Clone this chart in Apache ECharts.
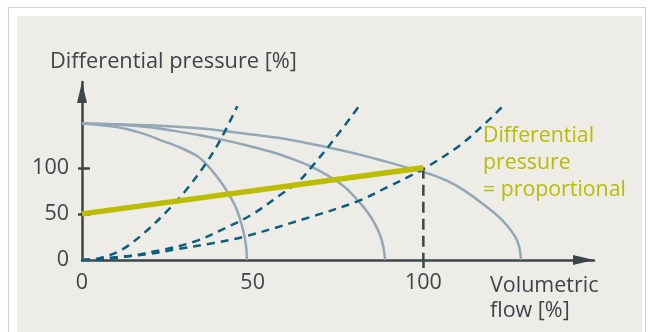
<!DOCTYPE html>
<html>
<head>
<meta charset="utf-8">
<script src="https://cdn.jsdelivr.net/npm/echarts@6/dist/echarts.min.js"></script>
<style>
html,body{margin:0;padding:0;background:#ffffff;}
#frame{position:absolute;left:8px;top:7px;width:638px;height:340px;border:1px solid #c9d2da;box-sizing:border-box;}
#panel{position:absolute;left:17px;top:16px;width:625px;height:316px;background:#edece7;}
#chart{position:absolute;left:0;top:0;width:651px;height:332px;}
</style>
</head>
<body>
<div id="frame"></div>
<div id="panel"></div>
<div id="chart"></div>
<script>
// Axis tick labels
const xTickLabels = [0, 50, 100];
const yTickLabels = [0, 50, 100];
const yTickMarks = [50, 100];
const xTickMarks = [100];

// Pump curves (volumetric flow %, differential pressure %)
const pumpSmall = [[0,148],[8.6,145],[13,142],[18.4,136.5],[23,130],[28.7,122],[33.6,113],[36,105.5],[38.5,95],[41,83],[43,71.5],[45.3,55],[47.3,31],[48.1,14],[48.3,0]];
const pumpMid = [[0,148],[10,147],[20,144],[27,140],[35,135],[41,130.5],[47.8,124.6],[57.5,115],[62,109],[67.3,101],[73.2,89],[77,79],[80,68],[82.8,56],[84.9,45],[86.5,34],[87.6,24],[88.4,12],[88.8,0]];
const pumpLarge = [[0,148],[20,146],[35,142.5],[47.8,137],[57.5,132.5],[65,127.5],[72.2,122],[80,115.5],[86.8,109],[93,102.6],[100,95.3],[101.9,93.2],[106.9,86],[111.7,76],[116.6,63.2],[121.5,48.8],[124.4,38],[126.9,25.3],[128.1,14.4],[128.6,0]];

// System curves (dashed)
const sysSteep = [[0,0],[4.7,1.5],[11.5,10.8],[18.4,30],[25.2,54],[30.1,74],[36,103],[40.8,132],[45.5,166.8]];
const sysMid = [[0,0],[10.5,2.5],[23.2,10.8],[33,20],[42.8,36],[50.1,50],[57.5,69],[63.4,85],[67.3,101],[74.1,132],[81,166]];
const sysFlat = [[0,0],[18.4,6],[28.1,11.9],[37.9,18],[47.7,25.5],[67.3,47],[81,64],[89.7,79.4],[96.6,92],[102,103],[110.8,124.6],[118.6,149.8],[123.3,166.8]];

// Operating point drop line and proportional pressure line
const dropLine = [[100,100],[100,0]];
const proportional = [[0,50],[100,100]];

const DARK = '#3c454a';
const FONT = 'Open Sans';

const chart = echarts.init(document.getElementById('chart'), null, {renderer:'canvas'});

function curve(data, color, width, type, z, smooth){
  return {type:'line', data:data, showSymbol:false, symbol:'none', smooth:smooth, z:z,
    lineStyle:{color:color, width:width, type:type, cap:'butt'}, silent:true};
}

chart.setOption({
  backgroundColor:'transparent',
  animation:false,
  grid:{left:82, top:82, width:512, height:178, containLabel:false},
  xAxis:{type:'value', min:0, max:150,
    splitLine:{show:false},
    axisLine:{show:true, onZero:false, symbol:['none','triangle'], symbolSize:[10,21], symbolOffset:[0,-10.5],
      lineStyle:{color:DARK, width:2.5}},
    axisTick:{show:true, customValues:xTickMarks, length:8, lineStyle:{color:DARK, width:2.5}},
    axisLabel:{customValues:xTickLabels, margin:12, color:DARK, fontFamily:FONT, fontSize:21.5}
  },
  yAxis:[{type:'value', min:0, max:193,
    splitLine:{show:false},
    axisLine:{show:true, onZero:false, symbol:['none','triangle'], symbolSize:[10,21], symbolOffset:[0,-10.5],
      lineStyle:{color:DARK, width:2.5}},
    axisTick:{show:true, customValues:yTickMarks, length:4, lineStyle:{color:DARK, width:2.5}},
    axisLabel:{customValues:yTickLabels, margin:13, color:DARK, fontFamily:FONT, fontSize:21.5}
  },{type:'value', min:0, max:193, position:'left',
    splitLine:{show:false},
    axisLine:{show:false},
    axisTick:{show:true, inside:true, customValues:yTickMarks, length:8, lineStyle:{color:DARK, width:2.5}},
    axisLabel:{show:false}
  }],
  graphic:[
    {type:'text', x:50, y:62, style:{text:'Differential pressure [%]', fill:DARK, font:'21.8px "Open Sans"', verticalAlign:'middle'}},
    {type:'text', x:483, y:136, style:{text:'Differential', fill:'#b9bc00', font:'21.3px "Open Sans"', verticalAlign:'middle'}},
    {type:'text', x:483, y:163, style:{text:'pressure', fill:'#b9bc00', font:'21.3px "Open Sans"', verticalAlign:'middle'}},
    {type:'text', x:483, y:189.5, style:{text:'= proportional', fill:'#b9bc00', font:'21.3px "Open Sans"', verticalAlign:'middle'}},
    {type:'text', x:490, y:285.5, style:{text:'Volumetric', fill:DARK, font:'21.5px "Open Sans"', verticalAlign:'middle'}},
    {type:'text', x:490, y:311, style:{text:'flow [%]', fill:DARK, font:'21.5px "Open Sans"', verticalAlign:'middle'}}
  ],
  series:[
    curve(pumpSmall, '#93a8b7', 2.5, 'solid', 2, 0.3),
    curve(pumpMid, '#93a8b7', 2.5, 'solid', 2, 0.3),
    curve(pumpLarge, '#93a8b7', 2.5, 'solid', 2, 0.3),
    curve(sysSteep, '#0e5e7e', 2.5, [8,6], 3, 0.35),
    curve(sysMid, '#0e5e7e', 2.5, [8,6], 3, 0.35),
    curve(sysFlat, '#0e5e7e', 2.5, [8,6], 3, 0.35),
    {type:'line', data:dropLine, symbol:'none', z:3, silent:true, lineStyle:{color:DARK, width:2.5, type:[11,6]}},
    {type:'line', data:proportional, symbol:'none', z:4, silent:true, lineStyle:{color:'#bcbd00', width:5.5}}
  ]
});
</script>
</body>
</html>
